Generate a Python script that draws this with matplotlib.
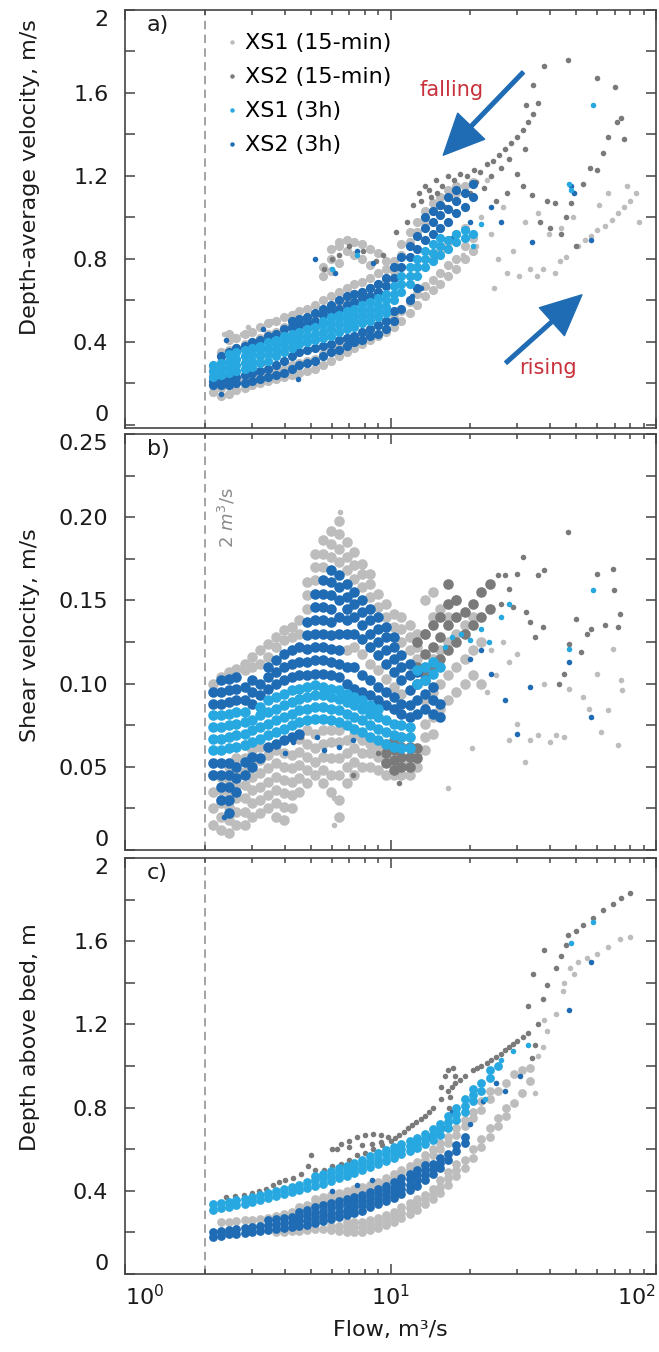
import numpy as np
import matplotlib.pyplot as plt
from matplotlib.lines import Line2D

plt.rcParams['font.family'] = ['DejaVu Sans']
plt.rcParams['mathtext.fontset'] = 'dejavusans'


def expand(cols):
    """(flow, [values...]) columns -> list of (flow, value) points"""
    return [(q, v) for q, vs in cols for v in vs]


# ---------------------------------------------------------------- data
# values: (flow m3/s, value); dense clouds are typed as columns

# a) depth-average velocity, m/s
A_XS1_15_COLS = [
    (2.15, [0.16, 0.20, 0.24, 0.28]), (2.3, [0.14, 0.18, 0.30, 0.35]),
    (2.46, [0.15, 0.19, 0.36, 0.41, 0.44]), (2.63, [0.17, 0.21, 0.37, 0.42]),
    (2.82, [0.18, 0.22, 0.39, 0.44]), (3.02, [0.19, 0.23, 0.40, 0.45]),
    (3.23, [0.20, 0.24, 0.42, 0.47]), (3.46, [0.21, 0.25, 0.44, 0.49]),
    (3.7, [0.22, 0.26, 0.45, 0.50]), (3.96, [0.23, 0.27, 0.47, 0.52]),
    (4.24, [0.24, 0.29, 0.48, 0.53]), (4.54, [0.25, 0.30, 0.50, 0.55]),
    (4.86, [0.26, 0.31, 0.51, 0.56]), (5.2, [0.27, 0.32, 0.53, 0.58]),
    (5.57, [0.29, 0.34, 0.55, 0.60, 0.72, 0.76]), (5.96, [0.31, 0.36, 0.57, 0.62, 0.74, 0.80, 0.85]),
    (6.38, [0.33, 0.38, 0.59, 0.64, 0.78, 0.86, 0.88]), (6.83, [0.35, 0.40, 0.61, 0.66, 0.84, 0.89]),
    (7.31, [0.37, 0.42, 0.63, 0.68, 0.82, 0.88]), (7.82, [0.39, 0.44, 0.64, 0.69, 0.80, 0.87]),
    (8.37, [0.41, 0.46, 0.66, 0.71, 0.77, 0.85]), (8.96, [0.43, 0.48, 0.68, 0.73, 0.83]),
    (9.59, [0.45, 0.50, 0.70, 0.75, 0.79]), (10.3, [0.47, 0.52, 0.74, 0.79]),
    (11.0, [0.50, 0.55, 0.82, 0.87]), (11.8, [0.54, 0.59, 0.88, 0.93]),
    (12.6, [0.58, 0.63, 0.93, 0.98]), (13.5, [0.62, 0.67, 0.98, 1.03]),
    (14.4, [0.65, 0.70, 0.80, 1.03, 1.07]), (15.4, [0.68, 0.73, 0.84, 1.06, 1.10]),
    (16.5, [0.72, 0.77, 0.88, 1.10, 1.13]), (17.7, [0.75, 0.80, 0.92, 1.12, 1.15]),
    (19.0, [0.80, 0.86, 0.95, 1.15]), (20.4, [0.84, 0.90, 1.17]),
]
A_XS1_15_PTS = [
    (2.35, 0.44), (2.55, 0.43), (2.75, 0.44), (2.9, 0.47), (3.55, 0.50), (4.3, 0.54), (4.8, 0.56),
    (22.0, 1.00), (23.0, 1.18), (24.0, 0.92), (21.0, 0.86), (18.8, 0.82),
    (24.5, 0.66), (25.5, 0.80), (26.5, 1.05), (27.5, 0.73), (29.0, 0.84), (30.5, 0.72), (32.0, 0.98),
    (33.5, 0.75), (35.5, 0.72), (37.5, 0.75), (39.5, 0.92), (41.5, 0.73), (43.5, 0.79), (46.0, 0.81),
    (48.5, 1.00), (51.0, 0.86), (54.0, 0.89), (57.0, 0.91), (60.0, 0.94), (64.0, 0.96), (68.0, 0.99),
    (72.0, 1.02), (76.0, 1.05), (80.0, 1.08), (84.0, 1.12), (86.0, 0.98), (78.0, 1.15), (66.0, 1.12),
    (61.0, 1.06), (44.0, 0.95), (36.0, 1.02),
]
A_XS2_15_PTS = [
    (3.3, 0.30), (4.8, 0.36), (5.6, 0.75), (6.0, 0.80), (6.4, 0.82), (7.0, 0.86), (7.9, 0.84),
    (8.8, 0.79), (9.4, 0.82), (10.5, 0.93), (11.5, 0.98), (12.2, 1.06), (12.8, 1.12), (13.5, 1.15),
    (14.2, 1.10), (14.8, 1.18), (15.6, 1.15), (16.4, 1.20), (17.3, 1.18), (18.3, 1.21), (19.4, 1.20),
    (20.6, 1.23), (21.8, 1.22), (23.0, 1.26), (24.3, 1.27), (25.6, 1.30), (27.0, 1.33), (28.5, 1.36),
    (30.0, 1.39), (31.5, 1.42), (33.0, 1.46), (34.5, 1.50), (36.0, 1.55), (13.0, 1.08), (14.0, 1.13),
    (15.0, 1.12), (16.0, 1.05), (18.0, 1.08), (20.0, 1.12), (21.0, 1.17), (22.5, 1.14), (24.0, 1.20),
    (25.0, 1.08), (26.0, 1.24), (27.5, 1.12), (28.0, 1.28), (30.0, 1.21), (31.6, 1.15), (32.0, 1.33),
    (34.0, 1.11), (36.5, 0.98), (39.0, 1.08), (41.6, 1.07), (40.0, 0.95), (44.0, 0.92), (46.0, 1.00),
    (48.0, 1.07), (50.0, 0.86), (53.0, 1.16), (56.5, 1.24), (60.0, 1.23), (63.0, 1.31), (66.0, 1.39),
    (71.0, 1.46), (74.0, 1.48), (75.5, 1.38), (70.0, 1.63), (60.0, 1.67), (46.5, 1.76), (38.0, 1.73),
    (34.4, 1.64), (32.5, 1.54),
]
A_XS1_3H_COLS = [
    (2.15, [0.23, 0.26, 0.29]), (2.3, [0.24, 0.27, 0.30]), (2.46, [0.25, 0.28, 0.31, 0.34]),
    (2.63, [0.26, 0.29, 0.32, 0.35]), (2.82, [0.27, 0.30, 0.33, 0.36]), (3.02, [0.28, 0.31, 0.34, 0.37]),
    (3.23, [0.30, 0.33, 0.36, 0.38]), (3.46, [0.31, 0.34, 0.37, 0.40]), (3.7, [0.33, 0.36, 0.39, 0.41]),
    (3.96, [0.35, 0.38, 0.41, 0.43]), (4.24, [0.37, 0.40, 0.43, 0.44]), (4.54, [0.39, 0.42, 0.45]),
    (4.86, [0.40, 0.43, 0.46]), (5.2, [0.41, 0.44, 0.47]), (5.57, [0.42, 0.45, 0.48, 0.50]),
    (5.96, [0.43, 0.46, 0.49, 0.52]), (6.38, [0.45, 0.48, 0.51, 0.53]), (6.83, [0.46, 0.49, 0.52, 0.55]),
    (7.31, [0.47, 0.50, 0.53, 0.56]), (7.82, [0.49, 0.52, 0.55, 0.58]), (8.37, [0.50, 0.53, 0.56, 0.59]),
    (8.96, [0.52, 0.55, 0.58, 0.61]), (9.59, [0.54, 0.57, 0.60, 0.63]), (10.3, [0.60, 0.63, 0.67]),
    (11.0, [0.64, 0.68, 0.72]), (11.8, [0.68, 0.72, 0.76]), (12.6, [0.72, 0.76, 0.80]),
    (13.5, [0.76, 0.80, 0.84]), (14.4, [0.79, 0.83, 0.87]), (15.4, [0.82, 0.86, 0.90]),
    (16.5, [0.85, 0.89]), (17.7, [0.88, 0.92]), (19.0, [0.90, 0.94]), (20.4, [0.92]),
]
A_XS1_3H_PTS = [
    (6.0, 0.75), (7.5, 0.82), (20.5, 0.86), (22.0, 0.97), (47.0, 1.16), (48.0, 1.13), (58.0, 1.54),
]
A_XS2_3H_COLS = [
    (2.15, [0.19, 0.21]), (2.3, [0.19, 0.21, 0.33]), (2.46, [0.19, 0.22, 0.35]),
    (2.63, [0.20, 0.23, 0.37]), (2.82, [0.20, 0.24, 0.38]), (3.02, [0.21, 0.25, 0.40]),
    (3.23, [0.22, 0.26, 0.41]), (3.46, [0.23, 0.27, 0.43]), (3.7, [0.24, 0.29, 0.44]),
    (3.96, [0.25, 0.31, 0.46]), (4.24, [0.27, 0.33, 0.47, 0.50]), (4.54, [0.29, 0.35, 0.48, 0.51]),
    (4.86, [0.30, 0.36, 0.49, 0.52]), (5.2, [0.31, 0.37, 0.50, 0.54]), (5.57, [0.33, 0.38, 0.53, 0.56]),
    (5.96, [0.35, 0.39, 0.55, 0.58]), (6.38, [0.36, 0.41, 0.56, 0.60]), (6.83, [0.38, 0.42, 0.58, 0.62]),
    (7.31, [0.40, 0.43, 0.59, 0.63]), (7.82, [0.41, 0.45, 0.61, 0.64]), (8.37, [0.43, 0.46, 0.62, 0.66]),
    (8.96, [0.44, 0.48, 0.64, 0.68]), (9.59, [0.46, 0.50, 0.67, 0.71]), (10.3, [0.50, 0.55, 0.71, 0.76]),
    (11.0, [0.56, 0.76, 0.81]), (11.8, [0.60, 0.81, 0.86]), (12.6, [0.66, 0.85, 0.91]),
    (13.5, [0.89, 0.95, 1.00]), (14.4, [0.92, 0.98, 1.03]), (15.4, [0.95, 1.01, 1.06]),
    (16.5, [0.98, 1.04, 1.10]), (17.7, [1.02, 1.08, 1.13]), (19.0, [1.05, 1.12]), (20.4, [1.10, 1.16]),
]
A_XS2_3H_PTS = [
    (2.4, 0.41), (3.3, 0.46), (5.2, 0.80), (6.2, 0.73), (7.5, 0.84), (8.6, 0.78), (11.0, 0.68),
    (12.0, 0.62), (13.0, 0.66), (15.0, 0.82), (17.0, 0.90), (20.0, 0.98), (24.0, 1.05), (26.0, 0.98),
    (34.0, 0.88), (48.0, 1.15), (49.0, 1.12), (57.0, 0.89), (2.3, 0.15), (4.5, 0.22),
]

# b) shear velocity, m/s
B_XS1_15_COLS = [
    (2.15, [0.015, 0.025, 0.035, 0.045, 0.10]), (2.3, [0.012, 0.02, 0.028, 0.036, 0.044, 0.104]),
    (2.46, [0.01, 0.018, 0.026, 0.034, 0.042, 0.05, 0.107]),
    (2.63, [0.015, 0.023, 0.031, 0.039, 0.047, 0.055, 0.109]),
    (2.82, [0.015, 0.023, 0.031, 0.039, 0.047, 0.055, 0.063, 0.108, 0.112]),
    (3.02, [0.02, 0.028, 0.036, 0.044, 0.052, 0.06, 0.11, 0.116]),
    (3.23, [0.022, 0.03, 0.038, 0.046, 0.054, 0.062, 0.112, 0.12]),
    (3.46, [0.025, 0.033, 0.041, 0.049, 0.057, 0.116, 0.124]),
    (3.7, [0.02, 0.028, 0.036, 0.044, 0.052, 0.06, 0.122, 0.128]),
    (3.96, [0.018, 0.026, 0.034, 0.042, 0.05, 0.058, 0.126, 0.132]),
    (4.24, [0.025, 0.033, 0.041, 0.049, 0.057, 0.128, 0.134]),
    (4.54, [0.035, 0.043, 0.051, 0.059, 0.067, 0.13, 0.138]),
    (4.86, [0.04, 0.048, 0.056, 0.064, 0.072, 0.145, 0.153, 0.161]),
    (5.2, [0.045, 0.053, 0.061, 0.07, 0.162, 0.17, 0.178]),
    (5.57, [0.04, 0.048, 0.056, 0.064, 0.072, 0.17, 0.178, 0.186]),
    (5.96, [0.035, 0.045, 0.055, 0.065, 0.072, 0.176, 0.184, 0.192]),
    (6.38, [0.02, 0.03, 0.045, 0.055, 0.065, 0.072, 0.173, 0.181, 0.19, 0.198]),
    (6.83, [0.04, 0.05, 0.058, 0.066, 0.12, 0.168, 0.176, 0.185]),
    (7.31, [0.045, 0.053, 0.061, 0.069, 0.122, 0.163, 0.171, 0.179]),
    (7.82, [0.05, 0.058, 0.066, 0.118, 0.158, 0.166, 0.172]),
    (8.37, [0.05, 0.058, 0.064, 0.112, 0.152, 0.16, 0.166]),
    (8.96, [0.048, 0.056, 0.062, 0.108, 0.146, 0.154]),
    (9.59, [0.045, 0.053, 0.06, 0.103, 0.14, 0.148]),
    (10.3, [0.045, 0.052, 0.098, 0.134, 0.142]),
    (11.0, [0.045, 0.052, 0.094, 0.125, 0.133, 0.14]),
    (11.8, [0.045, 0.052, 0.12, 0.128, 0.135]),
    (12.6, [0.05, 0.058, 0.115, 0.122, 0.13]),
    (13.5, [0.06, 0.068, 0.076, 0.09, 0.11, 0.13, 0.15]), (14.4, [0.07, 0.08, 0.095, 0.115, 0.14, 0.155]),
    (15.4, [0.085, 0.10, 0.12, 0.145]), (16.5, [0.09, 0.105, 0.125, 0.14]),
    (17.7, [0.095, 0.11, 0.13, 0.15]), (19.0, [0.10, 0.115, 0.135]), (20.4, [0.105, 0.12, 0.14]),
    (22.0, [0.10, 0.125]),
]
B_XS1_15_PTS = [
    (6.45, 0.203), (2.5, 0.01), (4.0, 0.018), (6.1, 0.015), (6.1, 0.031), (16.4, 0.037), (20.3, 0.061),
    (23.0, 0.095), (24.0, 0.12), (25.0, 0.105), (26.6, 0.125), (28.0, 0.113), (30.0, 0.118),
    (30.0, 0.076), (28.0, 0.066), (32.0, 0.053), (33.5, 0.066), (36.0, 0.069), (38.0, 0.10),
    (40.0, 0.065), (42.0, 0.069), (45.0, 0.068), (47.0, 0.097), (53.0, 0.092), (56.0, 0.085),
    (60.0, 0.106), (62.0, 0.071), (66.0, 0.084), (69.0, 0.121), (72.0, 0.063), (74.0, 0.102),
    (74.5, 0.096),
]
B_XS2_15_COLS = [
    (9.59, [0.052, 0.058, 0.064]), (10.3, [0.048, 0.054, 0.06, 0.066]),
    (11.0, [0.05, 0.056, 0.062, 0.068]), (11.8, [0.05, 0.056, 0.062]), (12.6, [0.055, 0.061]),
    (12.6, [0.11, 0.125]), (13.5, [0.105, 0.118, 0.13]), (14.4, [0.11, 0.122, 0.135]),
    (15.4, [0.115, 0.128, 0.14]), (16.5, [0.12, 0.135, 0.148, 0.16]), (17.7, [0.125, 0.14, 0.15]),
    (19.0, [0.13, 0.143]), (20.4, [0.135, 0.148]), (22.0, [0.14, 0.155]), (23.7, [0.145, 0.16]),
]
B_XS2_15_PTS = [
    (8.9, 0.084), (7.2, 0.045), (10.8, 0.04), (4.6, 0.068), (9.0, 0.058), (25.5, 0.165), (27.0, 0.165),
    (29.0, 0.146), (30.0, 0.166), (31.6, 0.176), (32.5, 0.143), (33.5, 0.137), (35.0, 0.128),
    (36.0, 0.165), (37.5, 0.134), (38.0, 0.168), (43.0, 0.10), (45.0, 0.106), (46.5, 0.191),
    (47.0, 0.124), (50.0, 0.139), (52.0, 0.119), (55.0, 0.13), (57.0, 0.133), (60.0, 0.166),
    (64.0, 0.135), (69.0, 0.169), (69.5, 0.156), (72.0, 0.134), (73.0, 0.142), (28.0, 0.157),
    (26.0, 0.148),
]
B_XS1_3H_COLS = [
    (2.15, [0.06, 0.067, 0.074, 0.081]), (2.3, [0.06, 0.067, 0.074, 0.081]),
    (2.46, [0.061, 0.068, 0.075, 0.082]), (2.63, [0.062, 0.069, 0.076, 0.083]),
    (2.82, [0.063, 0.07, 0.077, 0.083]), (3.02, [0.065, 0.072, 0.078]),
    (3.23, [0.067, 0.074, 0.081, 0.086]), (3.46, [0.069, 0.076, 0.083, 0.09]),
    (3.7, [0.071, 0.078, 0.085, 0.092]), (3.96, [0.073, 0.08, 0.087, 0.094]),
    (4.24, [0.075, 0.082, 0.089, 0.096]), (4.54, [0.077, 0.084, 0.091, 0.097]),
    (4.86, [0.078, 0.085, 0.092, 0.098]), (5.2, [0.079, 0.086, 0.093, 0.099]),
    (5.57, [0.079, 0.086, 0.093, 0.098]), (5.96, [0.078, 0.085, 0.092, 0.097]),
    (6.38, [0.077, 0.084, 0.091, 0.096]), (6.83, [0.075, 0.082, 0.089, 0.094]),
    (7.31, [0.073, 0.08, 0.087, 0.092]), (7.82, [0.071, 0.078, 0.085, 0.09]),
    (8.37, [0.068, 0.075, 0.082, 0.087]), (8.96, [0.066, 0.073, 0.08, 0.085]),
    (9.59, [0.064, 0.071, 0.078]), (10.3, [0.062, 0.069, 0.076]),
    (11.0, [0.061, 0.068, 0.075]), (11.8, [0.061, 0.068, 0.074]),
    (12.6, [0.10, 0.108]), (13.5, [0.102, 0.11]), (14.4, [0.106, 0.113]), (15.4, [0.11]),
]
B_XS1_3H_PTS = [
    (16.0, 0.122), (17.0, 0.128), (18.5, 0.13), (20.0, 0.126), (22.0, 0.133), (23.5, 0.125),
    (26.0, 0.14), (28.0, 0.148), (47.0, 0.121), (58.0, 0.156),
]
B_XS2_3H_COLS = [
    (2.15, [0.045, 0.052, 0.088, 0.095]), (2.3, [0.03, 0.038, 0.045, 0.052, 0.088, 0.095, 0.102]),
    (2.46, [0.022, 0.03, 0.038, 0.045, 0.052, 0.089, 0.096, 0.103]),
    (2.63, [0.035, 0.043, 0.05, 0.09, 0.097, 0.104]), (2.82, [0.045, 0.053, 0.09, 0.098]),
    (3.02, [0.05, 0.056, 0.088, 0.095, 0.102]), (3.23, [0.055, 0.093, 0.10]),
    (3.46, [0.062, 0.097, 0.104, 0.11]), (3.7, [0.064, 0.10, 0.107, 0.114]),
    (3.96, [0.066, 0.102, 0.11, 0.118]), (4.24, [0.068, 0.104, 0.112, 0.12]),
    (4.54, [0.07, 0.105, 0.113, 0.122]), (4.86, [0.105, 0.113, 0.121, 0.129, 0.137]),
    (5.2, [0.106, 0.114, 0.122, 0.13, 0.138, 0.146, 0.154]),
    (5.57, [0.106, 0.114, 0.122, 0.13, 0.138, 0.146, 0.154, 0.162]),
    (5.96, [0.105, 0.113, 0.121, 0.129, 0.137, 0.145, 0.153, 0.161, 0.168]),
    (6.38, [0.104, 0.112, 0.12, 0.13, 0.14, 0.15, 0.158, 0.165]),
    (6.83, [0.10, 0.11, 0.13, 0.138, 0.145, 0.152, 0.16]),
    (7.31, [0.097, 0.11, 0.13, 0.14, 0.148, 0.155]), (7.82, [0.095, 0.105, 0.127, 0.135, 0.143, 0.15]),
    (8.37, [0.093, 0.102, 0.122, 0.13, 0.138, 0.145]), (8.96, [0.09, 0.098, 0.117, 0.125, 0.133, 0.14]),
    (9.59, [0.087, 0.095, 0.112, 0.12, 0.128, 0.134]), (10.3, [0.085, 0.092, 0.107, 0.115, 0.122, 0.128]),
    (11.0, [0.082, 0.088, 0.102, 0.11, 0.117]), (11.8, [0.08, 0.087, 0.096, 0.105, 0.112]),
    (12.6, [0.082, 0.09, 0.10, 0.107]), (13.5, [0.085, 0.094, 0.102]), (14.4, [0.082, 0.09, 0.098]),
    (15.4, [0.08, 0.088]),
]
B_XS2_3H_PTS = [
    (2.35, 0.02), (2.45, 0.028), (2.65, 0.034), (3.2, 0.054), (4.0, 0.058), (4.3, 0.065), (5.3, 0.068),
    (5.6, 0.06), (6.4, 0.062), (7.2, 0.066), (20.0, 0.115), (22.0, 0.12), (24.0, 0.106), (27.0, 0.09),
    (30.0, 0.07), (33.5, 0.098), (47.0, 0.113), (57.0, 0.08),
]

# c) depth above bed, m
C_XS1_15_COLS = [
    (2.3, [0.20, 0.25]), (2.46, [0.205, 0.25]), (2.63, [0.255]), (2.82, [0.26]), (3.02, [0.26]),
    (3.23, [0.265]), (3.46, [0.27]), (3.7, [0.20, 0.28]), (3.96, [0.20, 0.29]), (4.24, [0.205, 0.30]),
    (4.54, [0.205, 0.32]), (4.86, [0.21, 0.33]), (5.2, [0.215, 0.34, 0.36]), (5.57, [0.215, 0.35, 0.37]),
    (5.96, [0.21, 0.23, 0.36, 0.38]), (6.38, [0.205, 0.23, 0.37, 0.39]),
    (6.83, [0.20, 0.225, 0.25, 0.38, 0.40]), (7.31, [0.20, 0.225, 0.25, 0.39, 0.41]),
    (7.82, [0.20, 0.225, 0.25, 0.40, 0.42]), (8.37, [0.21, 0.235, 0.26, 0.41, 0.43]),
    (8.96, [0.22, 0.245, 0.27, 0.42, 0.44]), (9.59, [0.235, 0.26, 0.285, 0.44, 0.46]),
    (10.3, [0.25, 0.275, 0.30, 0.46, 0.48]), (11.0, [0.27, 0.295, 0.32, 0.48, 0.50]),
    (11.8, [0.29, 0.315, 0.34, 0.50, 0.52]), (12.6, [0.31, 0.335, 0.36, 0.52, 0.54]),
    (13.5, [0.335, 0.36, 0.38, 0.55, 0.57]), (14.4, [0.36, 0.385, 0.41, 0.57, 0.60]),
    (15.4, [0.39, 0.42, 0.45, 0.60, 0.63]), (16.5, [0.43, 0.46, 0.49, 0.63, 0.66]),
    (17.7, [0.47, 0.50, 0.53, 0.67, 0.70]), (19.0, [0.51, 0.55, 0.71, 0.74]),
    (20.4, [0.56, 0.60, 0.75, 0.78]), (22.0, [0.61, 0.65, 0.79, 0.83]),
    (23.6, [0.66, 0.70, 0.84, 0.88]), (25.3, [0.71, 0.75, 0.88]), (27.2, [0.76, 0.80, 0.92]),
    (29.2, [0.82, 0.96]), (31.3, [0.87, 0.98]), (33.6, [0.93, 0.99]),
]
C_XS1_15_PTS = [
    (35.0, 0.87), (36.0, 1.05), (37.6, 1.09), (39.0, 1.17), (38.0, 1.22), (42.0, 1.25), (44.6, 1.36),
    (45.0, 1.40), (47.5, 1.47), (49.0, 1.44), (51.0, 1.50), (55.0, 1.52), (60.0, 1.54), (66.0, 1.57),
    (73.0, 1.61), (80.0, 1.62),
]
C_XS2_15_PTS = [
    (2.4, 0.37), (2.6, 0.375), (2.8, 0.38), (3.0, 0.39), (3.2, 0.40), (3.4, 0.41), (3.6, 0.43),
    (3.8, 0.44), (4.0, 0.45), (4.3, 0.46), (4.6, 0.48), (4.9, 0.52), (5.0, 0.57), (5.2, 0.50),
    (5.6, 0.50), (6.0, 0.52), (6.5, 0.53), (7.0, 0.55), (7.5, 0.57), (8.0, 0.58), (8.6, 0.60),
    (9.3, 0.62), (10.0, 0.64), (10.8, 0.67), (11.6, 0.70), (12.5, 0.73), (13.5, 0.76), (14.5, 0.80),
    (15.5, 0.84), (16.5, 0.88), (17.5, 0.92), (19.0, 0.95), (20.5, 0.98), (22.0, 1.00), (24.0, 1.03),
    (26.0, 1.06), (28.0, 1.09), (30.0, 1.12), (33.0, 1.16), (10.4, 0.655), (11.2, 0.685),
    (12.0, 0.715), (13.0, 0.745), (14.0, 0.78), (18.2, 0.935), (21.2, 0.99), (23.0, 1.015),
    (25.0, 1.045), (27.0, 1.075), (29.0, 1.105), (31.5, 1.14),
    (6.0, 0.60), (6.5, 0.625), (7.0, 0.64), (7.5, 0.66), (8.0, 0.67), (8.6, 0.675), (9.2, 0.67),
    (9.8, 0.66), (9.2, 0.635), (8.5, 0.625), (7.8, 0.62), (7.0, 0.61), (6.3, 0.60),
    (15.5, 0.90), (16.0, 0.95), (16.5, 0.98), (17.2, 0.99), (17.5, 0.95), (17.0, 0.90), (16.8, 0.85),
    (16.6, 0.80),
    (33.0, 1.29), (34.4, 1.44), (38.0, 1.56), (39.0, 1.39), (42.0, 1.47), (44.0, 1.53), (46.0, 1.58),
    (46.5, 1.63), (50.0, 1.65), (53.0, 1.68), (58.0, 1.71), (63.0, 1.75), (69.0, 1.78), (74.0, 1.81),
    (80.0, 1.83), (37.6, 1.32), (34.0, 1.04), (35.0, 1.10), (36.0, 1.20),
]
C_XS1_3H_COLS = [
    (2.15, [0.31, 0.335]), (2.3, [0.315, 0.34]), (2.46, [0.32, 0.345]), (2.63, [0.33, 0.355]),
    (2.82, [0.335, 0.36]), (3.02, [0.345, 0.37]), (3.23, [0.355, 0.38]), (3.46, [0.365, 0.39]),
    (3.7, [0.375, 0.40]), (3.96, [0.385, 0.41]), (4.24, [0.395, 0.42]), (4.54, [0.405, 0.43]),
    (4.86, [0.415, 0.44]), (5.2, [0.425, 0.45, 0.47]), (5.57, [0.435, 0.46, 0.48]),
    (5.96, [0.445, 0.47, 0.495]), (6.38, [0.46, 0.485, 0.51]), (6.83, [0.47, 0.495, 0.52]),
    (7.31, [0.485, 0.51, 0.535]), (7.82, [0.50, 0.525, 0.55]), (8.37, [0.515, 0.54, 0.565]),
    (8.96, [0.53, 0.555, 0.58]), (9.59, [0.545, 0.57, 0.595]), (10.3, [0.56, 0.585, 0.61]),
    (11.0, [0.575, 0.60, 0.625]), (11.8, [0.59, 0.615, 0.64]), (12.6, [0.605, 0.63, 0.655]),
    (13.5, [0.625, 0.65, 0.675]), (14.4, [0.645, 0.67, 0.695]), (15.4, [0.67, 0.695, 0.72]),
    (16.5, [0.70, 0.73, 0.76]), (17.7, [0.74, 0.77, 0.80]), (19.0, [0.78, 0.81, 0.84]),
    (20.4, [0.83, 0.86, 0.89]), (22.0, [0.88, 0.92]), (23.6, [0.94, 0.98]), (25.3, [1.0]),
]
C_XS1_3H_PTS = [
    (22.6, 0.84), (26.0, 1.03), (29.0, 1.07), (33.0, 1.10), (48.0, 1.59), (58.0, 1.69),
]
C_XS2_3H_COLS = [
    (2.15, [0.18, 0.20]), (2.3, [0.185, 0.205]), (2.46, [0.19, 0.21]), (2.63, [0.19, 0.215]),
    (2.82, [0.195, 0.22]), (3.02, [0.20, 0.225]), (3.23, [0.205, 0.23]), (3.46, [0.21, 0.235, 0.26]),
    (3.7, [0.215, 0.24, 0.265]), (3.96, [0.22, 0.245, 0.27]), (4.24, [0.225, 0.25, 0.275]),
    (4.54, [0.23, 0.255, 0.28, 0.30]), (4.86, [0.235, 0.26, 0.285, 0.31]),
    (5.2, [0.245, 0.27, 0.295, 0.32]), (5.57, [0.255, 0.28, 0.305, 0.33]),
    (5.96, [0.265, 0.29, 0.315, 0.34]), (6.38, [0.275, 0.30, 0.325, 0.35]),
    (6.83, [0.285, 0.31, 0.335, 0.36]), (7.31, [0.295, 0.32, 0.345, 0.37]),
    (7.82, [0.305, 0.33, 0.355, 0.38]), (8.37, [0.32, 0.345, 0.37, 0.395]),
    (8.96, [0.335, 0.36, 0.385, 0.41]), (9.59, [0.35, 0.375, 0.40, 0.425]),
    (10.3, [0.365, 0.39, 0.415, 0.44]), (11.0, [0.385, 0.41, 0.435, 0.46]),
    (11.8, [0.405, 0.43, 0.455, 0.48]), (12.6, [0.425, 0.45, 0.475, 0.50]),
    (13.5, [0.45, 0.475, 0.50, 0.525]), (14.4, [0.48, 0.505, 0.53]), (15.4, [0.51, 0.535, 0.56]),
    (16.5, [0.55, 0.575]), (17.7, [0.59, 0.62]), (19.0, [0.63, 0.66]),
]
C_XS2_3H_PTS = [
    (7.5, 0.43), (8.5, 0.45), (6.0, 0.40), (12.0, 0.62), (14.0, 0.66), (16.0, 0.70), (20.0, 0.72),
    (22.3, 0.83), (27.0, 0.88), (30.7, 0.95), (47.0, 1.27), (57.0, 1.50), (17.0, 0.78), (25.0, 0.92),
]

SERIES = ['XS1 (15-min)', 'XS2 (15-min)', 'XS1 (3h)', 'XS2 (3h)']
COLORS = {'XS1 (15-min)': '#bdbdbd', 'XS2 (15-min)': '#7a7a7a',
          'XS1 (3h)': '#27a8e0', 'XS2 (3h)': '#1f6cb4'}
DRAW_ORDER = ['XS1 (15-min)', 'XS2 (15-min)', 'XS2 (3h)', 'XS1 (3h)']
CLOUD_S = [44, 58, 40]   # marker area of the dense clouds, per panel
POINT_S = 16             # marker area of the loose points

# (cloud columns, loose points) per series and panel
PANELS = [
    {'XS1 (15-min)': (A_XS1_15_COLS, A_XS1_15_PTS), 'XS2 (15-min)': ([], A_XS2_15_PTS),
     'XS1 (3h)': (A_XS1_3H_COLS, A_XS1_3H_PTS), 'XS2 (3h)': (A_XS2_3H_COLS, A_XS2_3H_PTS)},
    {'XS1 (15-min)': (B_XS1_15_COLS, B_XS1_15_PTS), 'XS2 (15-min)': (B_XS2_15_COLS, B_XS2_15_PTS),
     'XS1 (3h)': (B_XS1_3H_COLS, B_XS1_3H_PTS), 'XS2 (3h)': (B_XS2_3H_COLS, B_XS2_3H_PTS)},
    {'XS1 (15-min)': (C_XS1_15_COLS, C_XS1_15_PTS), 'XS2 (15-min)': ([], C_XS2_15_PTS),
     'XS1 (3h)': (C_XS1_3H_COLS, C_XS1_3H_PTS), 'XS2 (3h)': (C_XS2_3H_COLS, C_XS2_3H_PTS)},
]
YLABELS = ['Depth-average velocity, m/s', 'Shear velocity, m/s', 'Depth above bed, m']
YLABEL_POS = [0.60, 0.517, 0.57]
LETTERS = ['a)', 'b)', 'c)']

# ---------------------------------------------------------------- figure
W, H = 659, 1352
fig = plt.figure(figsize=(W / 100, H / 100), dpi=100)
frames = [(10, 428), (434, 850), (858, 1274)]  # top / bottom in pixels
left, right = 125, 656
axes = []
for top, bottom in frames:
    axes.append(fig.add_axes([left / W, 1 - bottom / H, (right - left) / W, (bottom - top) / H]))

SPINE = '#444444'
TXT = '#1a1a1a'
for i, ax in enumerate(axes):
    for name in DRAW_ORDER:
        cols, loose = PANELS[i][name]
        if cols:
            pts = np.array(expand(cols))
            ax.scatter(pts[:, 0], pts[:, 1], s=CLOUD_S[i], c=COLORS[name], linewidths=0, zorder=2)
        pts = np.array(loose)
        ax.scatter(pts[:, 0], pts[:, 1], s=POINT_S, c=COLORS[name], linewidths=0, zorder=2)
    ax.axvline(2, color='#8a8a8a', lw=1.1, ls=(0, (5.5, 3.5)), zorder=1)

    ax.set_xscale('log')
    ax.set_xlim(1, 100)
    ax.set_xticks([1, 10, 100], [r'$\mathregular{10^{0}}$', r'$\mathregular{10^{1}}$',
                                 r'$\mathregular{10^{2}}$'])
    ax.set_xticks([k * d for d in (1, 10) for k in range(2, 10)], minor=True)
    ax.xaxis.set_minor_formatter(plt.NullFormatter())

    if i == 1:
        ax.set_ylim(0, 0.25)
        ax.set_yticks(np.linspace(0, 0.25, 11),
                      ['0', '', '0.05', '', '0.10', '', '0.15', '', '0.20', '', '0.25'])
    else:
        ax.set_ylim(-0.015 if i == 0 else 0, 2)
        ax.set_yticks(np.linspace(0, 2, 11),
                      ['0', '', '0.4', '', '0.8', '', '1.2', '', '1.6', '', '2'])

    ax.tick_params(which='both', direction='in', top=True, right=True, color=SPINE,
                   labelsize=16, labelcolor=TXT, width=1.1)
    ax.tick_params(axis='y', length=7.5, pad=12)
    ax.tick_params(axis='x', which='major', length=7.5, pad=7)
    ax.tick_params(axis='x', which='minor', length=3.5)
    for sp in ax.spines.values():
        sp.set_color(SPINE)
        sp.set_linewidth(1.2)

    yt = ax.yaxis.get_major_ticks()
    yt[0].label1.set_va('bottom')
    yt[-1].label1.set_va('top')

    if i < 2:
        ax.tick_params(axis='x', labelbottom=False)
    else:
        xt = ax.xaxis.get_major_ticks()
        xt[0].label1.set_ha('left')
        xt[-1].label1.set_ha('right')
        ax.set_xlabel('Flow, m³/s', fontsize=16, color=TXT, labelpad=8)

    ax.set_ylabel(YLABELS[i], fontsize=16, color=TXT)
    ax.yaxis.set_label_coords(-0.16, YLABEL_POS[i])
    ax.text(0.041, 0.988, LETTERS[i], transform=ax.transAxes, fontsize=16, color=TXT,
            ha='left', va='top')

# legend of panel a
handles = [Line2D([], [], ls='', marker='o', markersize=3.2, markeredgewidth=0,
                  color=COLORS[n]) for n in SERIES]
axes[0].legend(handles, SERIES, loc='upper left', bbox_to_anchor=(0.189, 0.944), frameon=False,
               fontsize=16, borderpad=0, borderaxespad=0, handlelength=0.6, handletextpad=0.3,
               labelspacing=0.63)

# arrows and labels in panel a
ARROW = '#1f6cb4'
RED = '#c8323c'
axes[0].annotate('', xy=(15.8, 1.30), xytext=(31.6, 1.70),
                 arrowprops=dict(color=ARROW, width=2.6, headwidth=27, headlength=29, shrink=0))
axes[0].annotate('', xy=(52.6, 0.627), xytext=(27.2, 0.299),
                 arrowprops=dict(color=ARROW, width=2.6, headwidth=27, headlength=29, shrink=0))
axes[0].text(17.05, 1.614, 'falling', color=RED, fontsize=15, ha='center', va='center')
axes[0].text(39.2, 0.275, 'rising', color=RED, fontsize=15, ha='center', va='center')

axes[1].text(2.42, 0.1995, r'2 $m^3$/s', color='#8a8a8a', fontsize=13, rotation=90,
             ha='center', va='center')

fig.savefig('out.png', dpi=100)
